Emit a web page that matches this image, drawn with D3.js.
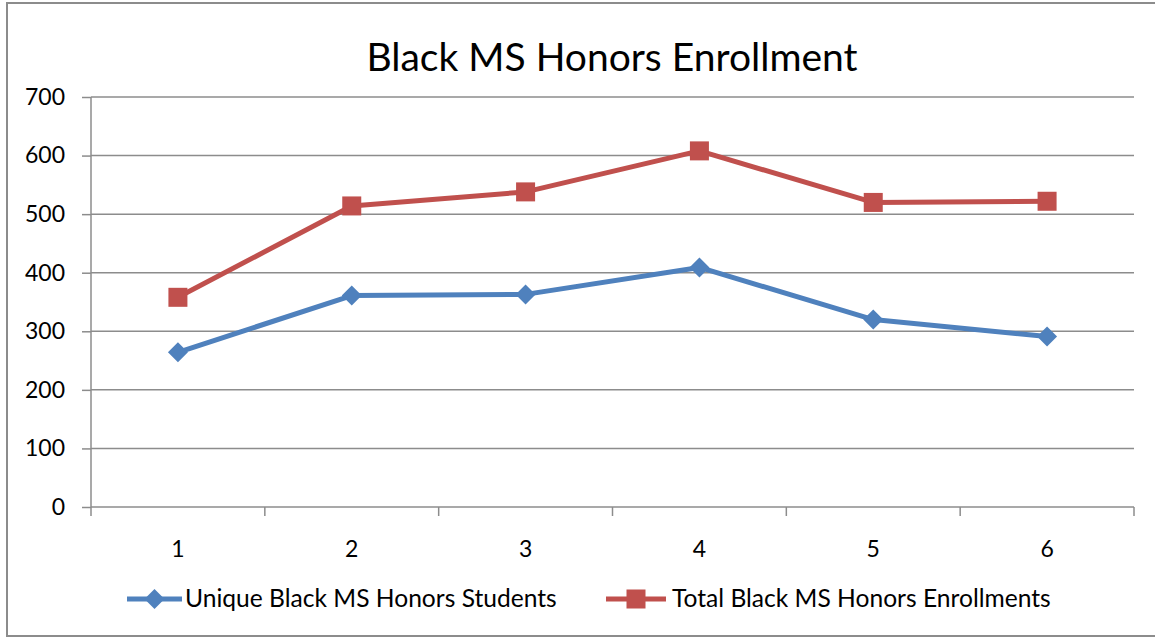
<!DOCTYPE html>
<html><head><meta charset="utf-8">
<script src="https://cdn.jsdelivr.net/npm/d3@7"></script>
<style>body{margin:0;background:#fff}svg{display:block}text{font-family:Lato,"Open Sans",sans-serif;fill:#000}</style>
</head><body><svg id="c" width="1155" height="638"></svg>
<script>
const categories = ["1","2","3","4","5","6"];
const uniqueStudents = [264, 361, 363, 409, 320, 291];
const totalEnrollments = [358, 514, 538, 608, 520, 522];
const yTicks = [0,100,200,300,400,500,600,700];
const seriesNames = ["Unique Black MS Honors Students","Total Black MS Honors Enrollments"];
const title = "Black MS Honors Enrollment";

(function(){
const svg = d3.select("#c");
svg.append("rect").attr("x",7).attr("y",3).attr("width",1170).attr("height",633)
  .attr("fill","#fff").attr("stroke","#8c8c8c").attr("stroke-width",2);

const pl=91,pr=1134,pt=97,pb=507;
const x = d3.scaleBand().domain(categories).range([pl,pr]);
const y = d3.scaleLinear().domain([0,700]).range([pb,pt]);

svg.append("g").selectAll("line").data(yTicks.filter(d=>d>0)).join("line")
  .attr("x1",pl).attr("x2",pr).attr("y1",d=>y(d)).attr("y2",d=>y(d))
  .attr("stroke","#8c8c8c").attr("stroke-width",1.5);

const ya = svg.append("g").attr("transform",`translate(${pl},0)`)
  .call(d3.axisLeft(y).tickValues(yTicks).tickSize(9).tickPadding(17));
ya.select(".domain").attr("stroke","#8c8c8c").attr("stroke-width",1.5).attr("d",`M0,${pt}V${pb}`);
ya.selectAll(".tick line").attr("stroke","#8c8c8c").attr("stroke-width",1.5);
ya.selectAll(".tick text").attr("font-size",23).attr("font-family","Lato").attr("fill","#000");

const xa = svg.append("g").attr("transform",`translate(0,${pb})`);
xa.append("line").attr("x1",pl).attr("x2",pr).attr("stroke","#8c8c8c").attr("stroke-width",1.5);
const bounds = categories.map(c=>x(c)).concat([x(categories[categories.length-1])+x.bandwidth()]);
xa.selectAll("line.tk").data(bounds).join("line").attr("class","tk")
  .attr("x1",d=>d).attr("x2",d=>d).attr("y1",0).attr("y2",9)
  .attr("stroke","#8c8c8c").attr("stroke-width",1.5);
xa.selectAll("text").data(categories).join("text")
  .attr("x",d=>x(d)+x.bandwidth()/2).attr("y",50).attr("text-anchor","middle")
  .attr("font-size",23).text(d=>d);

svg.append("text").attr("x",612).attr("y",71).attr("text-anchor","middle")
  .attr("font-size",39).text(title);

const cx = d=>x(d)+x.bandwidth()/2;
const series = [
  {vals:uniqueStudents,color:"#4F81BD",shape:"diamond"},
  {vals:totalEnrollments,color:"#C0504D",shape:"square"}
];
const line = d3.line();
function marker(g,shape,color,px,py){
  if(shape==="diamond"){
    g.append("path").attr("d",`M${px},${py-10}L${px+10},${py}L${px},${py+10}L${px-10},${py}Z`).attr("fill",color);
  } else {
    g.append("rect").attr("x",px-9.5).attr("y",py-9.5).attr("width",19).attr("height",19).attr("fill",color);
  }
}
series.forEach(s=>{
  const pts = categories.map((c,i)=>[cx(c),y(s.vals[i])]);
  svg.append("path").attr("d",line(pts)).attr("fill","none").attr("stroke",s.color)
    .attr("stroke-width",5).attr("stroke-linejoin","round");
  const g=svg.append("g");
  pts.forEach(p=>marker(g,s.shape,s.color,p[0],p[1]));
});

const leg = [{x1:127,x2:182,tx:185},{x1:606,x2:666,tx:672}];
series.forEach((s,i)=>{
  const L=leg[i], yy=599;
  svg.append("line").attr("x1",L.x1).attr("x2",L.x2).attr("y1",yy).attr("y2",yy)
    .attr("stroke",s.color).attr("stroke-width",5);
  marker(svg,s.shape,s.color,(L.x1+L.x2)/2,yy);
  svg.append("text").attr("x",L.tx).attr("y",yy+8).attr("font-size",24.6).text(seriesNames[i]);
});
})();
</script></body></html>
